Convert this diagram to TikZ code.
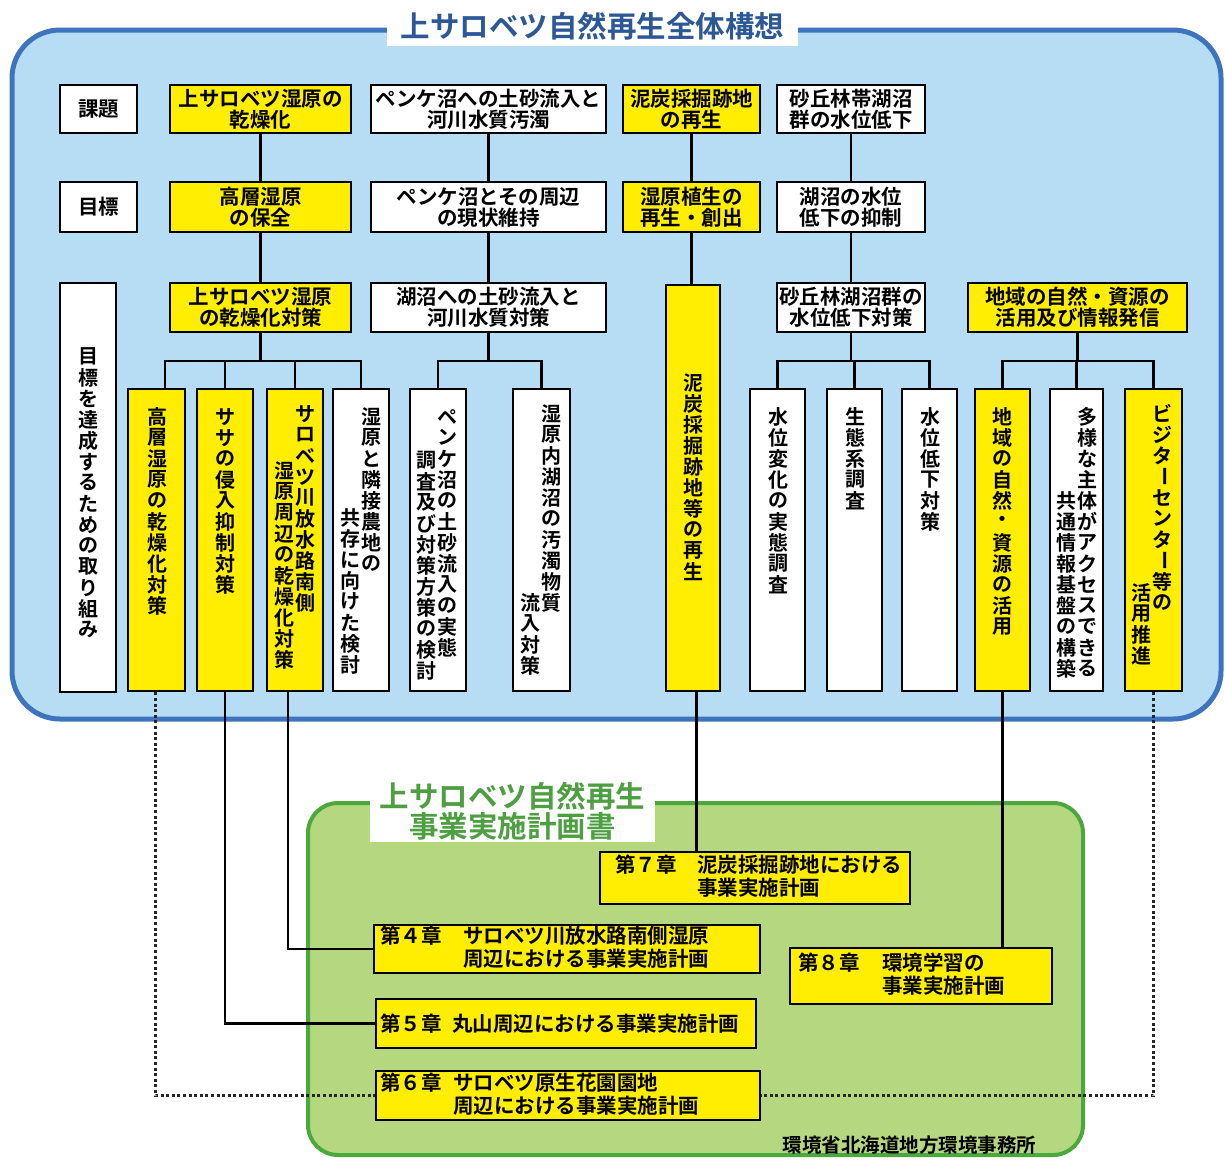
\documentclass[tikz,border=0pt]{standalone}
\usepackage{fontspec}
\usepackage{graphicx}
\setmainfont{Noto Sans CJK JP Bold}
\definecolor{bluefill}{RGB}{183,221,245}
\definecolor{bluebd}{RGB}{62,116,190}
\definecolor{titleblue}{RGB}{45,88,150}
\definecolor{ylw}{RGB}{255,238,0}
\definecolor{greenfill}{RGB}{181,215,127}
\definecolor{greenbd}{RGB}{75,168,60}
\definecolor{titlegreen}{RGB}{78,158,66}
\makeatletter
\newcommand\tcol[1]{\vtop{\offinterlineskip\@tfor\tc:=#1\do{\vbox to 21pt{\vss\hbox to 21pt{\hss\tc\hss}\vss}}}}
\makeatother
\newcommand\tv{\rotatebox[origin=c]{-90}{ー}}
\newcommand\mkbox[7]{\node[#1,minimum width={#5-#3},minimum height={#6-#4}] (#2) at ({(#3+#5)/2},{(#4+#6)/2}) {#7};}
\tikzset{
  bx/.style={draw=black, line width=2.6pt, inner sep=0pt, align=center, font=\fontsize{20.5}{21}\selectfont},
  yb/.style={bx, fill=ylw},
  wb/.style={bx, fill=white},
  ln/.style={line width=2.4pt, draw=black},
  dt/.style={line width=3pt, draw=black!85, dash pattern=on 3pt off 2.6pt},
  vt/.style={anchor=north, inner sep=0pt, font=\fontsize{20}{21}\selectfont},
  ct/.style={anchor=west, inner sep=0pt, font=\fontsize{20.5}{20}\selectfont},
}
\begin{document}
\begin{tikzpicture}[x=1pt,y=-1pt]
\useasboundingbox (0,0) rectangle (1225,1160);
% regions
\draw[line width=5pt, draw=bluebd, fill=bluefill, rounded corners=48pt] (12,30) rectangle (1221,719);
\node[fill=white, inner sep=0pt, minimum width=411, minimum height=40, text=titleblue,
      font=\fontsize{29.5}{30}\selectfont] (title) at (592.5,26) {上サロベツ自然再生全体構想};
\draw[line width=4pt, draw=greenbd, fill=greenfill, rounded corners=30pt] (308,803) rectangle (1083,1155);
\node[fill=white, inner sep=0pt, minimum width=285, minimum height=62, text=titlegreen, align=center,
      font=\fontsize{29.5}{30}\selectfont] (gtitle) at (512.5,811) {上サロベツ自然再生\\事業実施計画書};
% row 1
\mkbox{wb}{k1}{60}{85}{137}{133}{課題}
\mkbox{yb}{a1}{170}{85}{351}{133}{上サロベツ湿原の\\乾燥化}
\mkbox{wb}{b1}{371}{85}{606}{133}{ペンケ沼への土砂流入と\\河川水質汚濁}
\mkbox{yb}{c1}{623}{85}{760}{133}{泥炭採掘跡地\\の再生}
\mkbox{wb}{d1}{777}{85}{925}{133}{砂丘林帯湖沼\\群の水位低下}
% row 2
\mkbox{wb}{k2}{60}{182}{137}{232}{目標}
\mkbox{yb}{a2}{170}{182}{351}{232}{高層湿原\\の保全}
\mkbox{wb}{b2}{371}{182}{606}{232}{ペンケ沼とその周辺\\の現状維持}
\mkbox{yb}{c2}{623}{182}{760}{232}{湿原植生の\\再生・創出}
\mkbox{wb}{d2}{777}{182}{925}{232}{湖沼の水位\\低下の抑制}
% row 3
\mkbox{wb}{k3}{60}{283}{116}{692}{}
\mkbox{yb}{a3}{170}{283}{351}{332}{上サロベツ湿原\\の乾燥化対策}
\mkbox{wb}{b3}{371}{283}{606}{332}{湖沼への土砂流入と\\河川水質対策}
\mkbox{yb}{c3}{666}{285}{720}{691}{}
\mkbox{wb}{d3}{777}{283}{925}{332}{砂丘林湖沼群の\\水位低下対策}
\mkbox{yb}{e3}{968}{283}{1187}{332}{地域の自然・資源の\\活用及び情報発信}
% vertical boxes
\mkbox{yb}{v1}{128}{389}{185}{691}{}
\mkbox{yb}{v2}{197}{389}{253}{691}{}
\mkbox{yb}{v3}{267}{389}{323}{691}{}
\mkbox{wb}{v4}{333}{389}{389}{691}{}
\mkbox{wb}{v5}{410}{389}{466}{691}{}
\mkbox{wb}{v6}{513}{389}{570}{691}{}
\mkbox{wb}{v7}{750}{389}{805}{691}{}
\mkbox{wb}{v8}{827}{389}{882}{691}{}
\mkbox{wb}{v9}{902}{389}{957}{691}{}
\mkbox{yb}{v10}{975}{389}{1030}{691}{}
\mkbox{wb}{v11}{1050}{389}{1103}{691}{}
\mkbox{yb}{v12}{1125}{389}{1182}{691}{}
% vertical texts
\node[vt] (tk3) at (88,346) {\tcol{目標を達成するための取り組み}};
\node[vt] (tv1) at (157,406) {\tcol{高層湿原の乾燥化対策}};
\node[vt] (tv2) at (225,406) {\tcol{ササの侵入抑制対策}};
\node[vt] (tv3a) at (305,403) {\tcol{サロベツ川放水路南側}};
\node[vt] (tv3b) at (284,460) {\tcol{湿原周辺の乾燥化対策}};
\node[vt] (tv4a) at (371,406) {\tcol{湿原と隣接農地の}};
\node[vt] (tv4b) at (350,507) {\tcol{共存に向けた検討}};
\node[vt] (tv5a) at (447,406) {\tcol{ペンケ沼の土砂流入の実態}};
\node[vt] (tv5b) at (426,450) {\tcol{調査及び対策方策の検討}};
\node[vt] (tv6a) at (551,403) {\tcol{湿原内湖沼の汚濁物質}};
\node[vt] (tv6b) at (530,592) {\tcol{流入対策}};
\node[vt] (tc3) at (693,372) {\tcol{泥炭採掘跡地等の再生}};
\node[vt] (tv7) at (778,406) {\tcol{水位変化の実態調査}};
\node[vt] (tv8) at (855,406) {\tcol{生態系調査}};
\node[vt] (tv9) at (930,406) {\tcol{水位低下対策}};
\node[vt] (tv10) at (1002,406) {\tcol{地域の自然・資源の活用}};
\node[vt] (tv11a) at (1087,406) {\tcol{多様な主体がアクセスできる}};
\node[vt] (tv11b) at (1066,490) {\tcol{共通情報基盤の構築}};
\node[vt] (tv12a) at (1162,403) {\tcol{ビジタ\tv センタ\tv 等の}};
\node[vt] (tv12b) at (1141,582) {\tcol{活用推進}};
% chapter boxes
\mkbox{yb}{ch7}{600}{852}{910}{904}{}
\mkbox{yb}{ch4}{374}{925}{760}{973}{}
\mkbox{yb}{ch5}{376}{999}{756}{1048}{}
\mkbox{yb}{ch6}{376}{1071}{760}{1120}{}
\mkbox{yb}{ch8}{790}{948}{1052}{1004}{}
\node[ct] (t7) at (615,878) {\begin{tabular}{@{}l@{\hspace{20.5pt}}l@{}}第７章&泥炭採掘跡地における\\&事業実施計画\end{tabular}};
\node[ct] (t4) at (380,949) {\begin{tabular}{@{}l@{\hspace{21.5pt}}l@{}}第４章&サロベツ川放水路南側湿原\\&周辺における事業実施計画\end{tabular}};
\node[ct] (t5) at (380,1023.5) {第５章\hspace{10.5pt}丸山周辺における事業実施計画};
\node[ct] (t6) at (380,1096) {\begin{tabular}{@{}l@{\hspace{11.5pt}}l@{}}第６章&サロベツ原生花園園地\\&周辺における事業実施計画\end{tabular}};
\node[ct] (t8) at (798,976) {\begin{tabular}{@{}l@{\hspace{22.5pt}}l@{}}第８章&環境学習の\\&事業実施計画\end{tabular}};
\node[inner sep=0pt, font=\fontsize{19.5}{20}\selectfont] (office) at (909.5,1145) {環境省北海道地方環境事務所};
% connectors top
\draw[ln] (a1) -- (a2);
\draw[ln] (a2) -- (a3);
\draw[ln] (b1) -- (b2);
\draw[ln] (b2) -- (b3);
\draw[ln] (c1) -- (c2);
\draw[ln] (c2.south) -- (c2.south |- c3.north);
\draw[ln] (d1) -- (d2);
\draw[ln] (d2) -- (d3);
\coordinate (busy) at (0,361);
\draw[ln] (a3.south) -- (a3.south |- busy);
\draw[ln] ([xshift=8.5pt]v1.north) |- (v4.north |- busy) -- (v4.north);
\draw[ln] (v2.north) -- (v2.north |- busy);
\draw[ln] (v3.north) -- (v3.north |- busy);
\draw[ln] (b3.south) -- (b3.south |- busy);
\draw[ln] (v5.north) |- (v6.north |- busy) -- (v6.north);
\draw[ln] (d3.south) -- (d3.south |- busy);
\draw[ln] (v7.north) |- (v9.north |- busy) -- (v9.north);
\draw[ln] (v8.north) -- (v8.north |- busy);
\draw[ln] (e3.south) -- (e3.south |- busy);
\draw[ln] (v10.north) |- (v12.north |- busy) -- (v12.north);
\draw[ln] (v11.north) -- (v11.north |- busy);
% connectors to chapters
\draw[ln] ([xshift=3.5pt]c3.south) -- ([xshift=3.5pt]c3.south |- ch7.north);
\draw[ln] (v10.south) -- (v10.south |- ch8.north);
\draw[ln] ([xshift=-7pt]v3.south) |- (ch4.west);
\draw[ln] (v2.south) |- (ch5.west);
\draw[dt] ([xshift=-1.5pt]v1.south) |- (ch6.west);
\draw[dt] (v12.south) |- (ch6.east);
\end{tikzpicture}
\end{document}
